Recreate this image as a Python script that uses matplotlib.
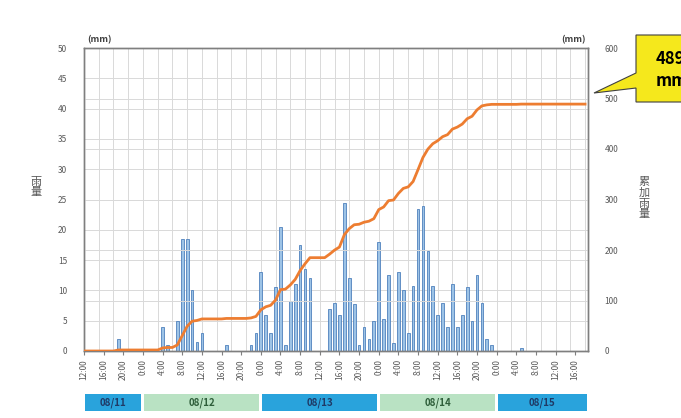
import numpy as np
import matplotlib
matplotlib.use("Agg")
import matplotlib.pyplot as plt
from matplotlib.patches import Polygon, Rectangle

plt.rcParams['font.family'] = ['Noto Sans CJK TC', 'DejaVu Sans']

# hours since 08/11 12:00 and hourly rainfall (mm)
rain_hour = [7, 16, 17, 19, 20, 21, 22, 23, 24, 29,
             34, 35, 36, 37, 38, 39, 40, 41, 42, 43, 44, 45, 46,
             50, 51, 52, 53, 54, 55, 56, 57, 58, 59,
             60, 61, 62, 63, 64, 65, 66, 67, 68, 69, 70, 71, 72, 73, 74,
             75, 76, 77, 78, 79, 80, 81, 82, 83, 89]
rain_mm = [2, 4, 1, 5, 18.5, 18.5, 10, 1.5, 3, 1,
           1, 3, 13, 6, 3, 10.5, 20.5, 1, 8.3, 11, 17.5, 13.5, 12,
           7, 8, 6, 24.5, 12, 7.7, 1, 4, 2, 5,
           18, 5.2, 12.5, 1.3, 13, 10, 3, 10.7, 23.5, 24, 16.5, 10.7, 6, 8, 4,
           11, 4, 6, 10.5, 5, 12.5, 8, 2, 1, 0.5]
n_hours = 103
tick_hours = list(range(0, 101, 4))
tick_labels = ["12:00", "16:00", "20:00", "0:00", "4:00", "8:00", "12:00", "16:00", "20:00",
               "0:00", "4:00", "8:00", "12:00", "16:00", "20:00",
               "0:00", "4:00", "8:00", "12:00", "16:00", "20:00",
               "0:00", "4:00", "8:00", "12:00", "16:00"]
days = ["08/11", "08/12", "08/13", "08/14", "08/15"]
day_start = [0, 12, 36, 60, 84]
day_end = [12, 36, 60, 84, 102.6]

hourly = np.zeros(n_hours)
hourly[rain_hour] = rain_mm
cum = np.cumsum(hourly)
total = cum[-1]

W, H = 681, 418
fig = plt.figure(figsize=(W / 100, H / 100), dpi=100)
fig.patch.set_facecolor('white')

def fx(px):
    return px / W

def fy(py):
    return 1 - py / H

L, R, T, B = 84, 588, 48, 351
ax = fig.add_axes([fx(L), fy(B), fx(R - L), (B - T) / H])
ax2 = ax.twinx()
XMAX = 102.6
ax.set_xlim(0, XMAX)
ax.set_ylim(0, 50)
ax2.set_ylim(0, 600)

# grids
for gx in np.arange(3, XMAX, 3):
    ax.axvline(gx, color='#d9d9d9', lw=0.7, zorder=0)
for gy in np.arange(5, 50, 5):
    ax.axhline(gy, color='#d9d9d9', lw=0.7, zorder=0)
for gy in np.arange(100, 600, 100):
    ax2.axhline(gy, color='#d9d9d9', lw=0.7, zorder=0)

ax.bar(rain_hour, rain_mm, width=0.55, color='#9DC3E6', edgecolor='#4F81BD',
       linewidth=0.6, zorder=2)
ax2.plot(np.arange(n_hours), cum, color='#ED7D31', lw=2, zorder=3)

for a in (ax, ax2):
    for s in a.spines.values():
        s.set_color('#7f7f7f')
        s.set_linewidth(1.0)

ax.set_yticks(np.arange(0, 51, 5))
ax2.set_yticks(np.arange(0, 601, 100))
ax.tick_params(axis='y', length=0, labelsize=6, labelcolor='#595959', pad=12)
ax2.tick_params(axis='y', length=0, labelsize=6, labelcolor='#595959', pad=12)
ax.set_xticks(tick_hours)
ax.set_xticklabels(tick_labels, rotation=90, fontsize=6, color='#595959')
ax.tick_params(axis='x', length=3, color='#7f7f7f', pad=3)

fig.text(fx(100), fy(40), "(mm)", fontsize=6.5, fontweight='bold', color='#404040',
         ha='center', va='center')
fig.text(fx(573), fy(40), "(mm)", fontsize=6.5, fontweight='bold', color='#404040',
         ha='center', va='center')
fig.text(fx(36), fy(187), "\n".join("雨量"), fontsize=8, color='#595959',
         ha='center', va='center', linespacing=1.1)
fig.text(fx(644), fy(198), "\n".join("累加雨量"), fontsize=8, color='#595959',
         ha='center', va='center', linespacing=1.1)

# date bands
axd = fig.add_axes([fx(L), fy(411), fx(R - L), 17 / H])
axd.set_xlim(0, XMAX)
axd.set_ylim(0, 1)
axd.axis('off')
for i, (d, s, e) in enumerate(zip(days, day_start, day_end)):
    blue = i % 2 == 0
    fc = '#29A3DC' if blue else '#B9E2C3'
    tc = '#1F3A66' if blue else '#2E5E3A'
    axd.add_patch(Rectangle((s + 0.3, 0), e - s - 0.6, 1, facecolor=fc, edgecolor='none'))
    axd.text((s + e) / 2, 0.5, d, ha='center', va='center', fontsize=7,
             fontweight='bold', color=tc)

# callout (cut off at the right edge, as in the original screenshot)
pts = [(636, 35), (700, 35), (700, 102), (636, 102), (636, 88), (594, 93), (636, 73)]
poly = Polygon([(fx(x), fy(y)) for x, y in pts], closed=True, transform=fig.transFigure,
               facecolor='#F5E81C', edgecolor='#404040', lw=0.8, clip_on=False)
fig.patches.append(poly)
fig.text(fx(656), fy(70), f"{total:.0f}\nmm", fontsize=12, fontweight='bold',
         color='black', ha='left', va='center', linespacing=1.25)

fig.savefig("out.png", dpi=100, facecolor='white')
